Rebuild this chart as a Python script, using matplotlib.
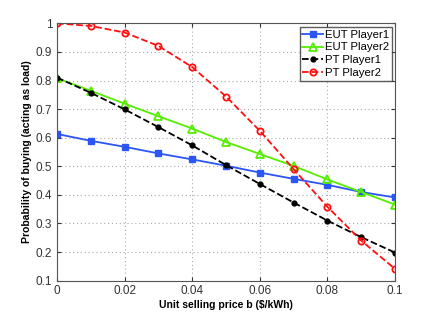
import numpy as np
import matplotlib
matplotlib.use('Agg')
import matplotlib.pyplot as plt

plt.rcParams['font.family'] = ['Liberation Sans', 'DejaVu Sans']

b = [0, 0.01, 0.02, 0.03, 0.04, 0.05, 0.06, 0.07, 0.08, 0.09, 0.1]
eut_p1 = [0.613, 0.589, 0.568, 0.545, 0.524, 0.502, 0.478, 0.456, 0.435, 0.410, 0.391]
eut_p2 = [0.808, 0.764, 0.719, 0.675, 0.632, 0.585, 0.543, 0.501, 0.454, 0.410, 0.366]
pt_p1 = [0.810, 0.757, 0.699, 0.637, 0.573, 0.504, 0.438, 0.373, 0.310, 0.252, 0.198]
pt_p2 = [1.000, 0.991, 0.968, 0.921, 0.847, 0.744, 0.624, 0.490, 0.358, 0.240, 0.141]

fig = plt.figure(figsize=(4.36, 3.16), dpi=100)
ax = fig.add_axes([0.131, 0.112, 0.775, 0.814])

ax.plot(b, eut_p1, '-', color='#2b55f5', marker='s', ms=4, lw=1.3, label='EUT Player1')
ax.plot(b, eut_p2, '-', color='#55ee00', marker='^', ms=6, mfc='none', mew=1.3, lw=1.3, label='EUT Player2')
ax.plot(b, pt_p1, '--', color='black', marker='o', ms=3.5, lw=1.3, label='PT Player1')
ax.plot(b, pt_p2, '--', color='#ff1010', marker='o', ms=4.5, mfc='none', mew=1.3, lw=1.3, label='PT Player2')

ax.set_xlim(0, 0.1)
ax.set_ylim(0.1, 1.0)
ax.set_xticks([0, 0.02, 0.04, 0.06, 0.08, 0.1])
ax.set_xticklabels(['0', '0.02', '0.04', '0.06', '0.08', '0.1'])
ax.set_yticks(np.arange(0.1, 1.01, 0.1))
ax.set_yticklabels(['0.1', '0.2', '0.3', '0.4', '0.5', '0.6', '0.7', '0.8', '0.9', '1'])
ax.tick_params(labelsize=8.5, direction='in', length=3, colors='#333333', top=True, right=True)
ax.grid(True, linestyle=(0, (1, 2.5)), color='#aaaaaa', lw=0.8)
for s in ax.spines.values():
    s.set_color('#555555')

ax.set_xlabel('Unit selling price b ($/kWh)', fontsize=7.5, fontweight='bold', labelpad=2)
ax.set_ylabel('Probability of buying (acting as load)', fontsize=7.5, fontweight='bold', labelpad=3)

leg = ax.legend(loc='upper right', fontsize=8.2, frameon=True, fancybox=False,
                borderaxespad=0.3, handlelength=1.8, handletextpad=0.15,
                labelspacing=0.25, borderpad=0.25)
leg.get_frame().set_edgecolor('#333333')
leg.get_frame().set_linewidth(1.0)

fig.savefig('out.png', dpi=100)
